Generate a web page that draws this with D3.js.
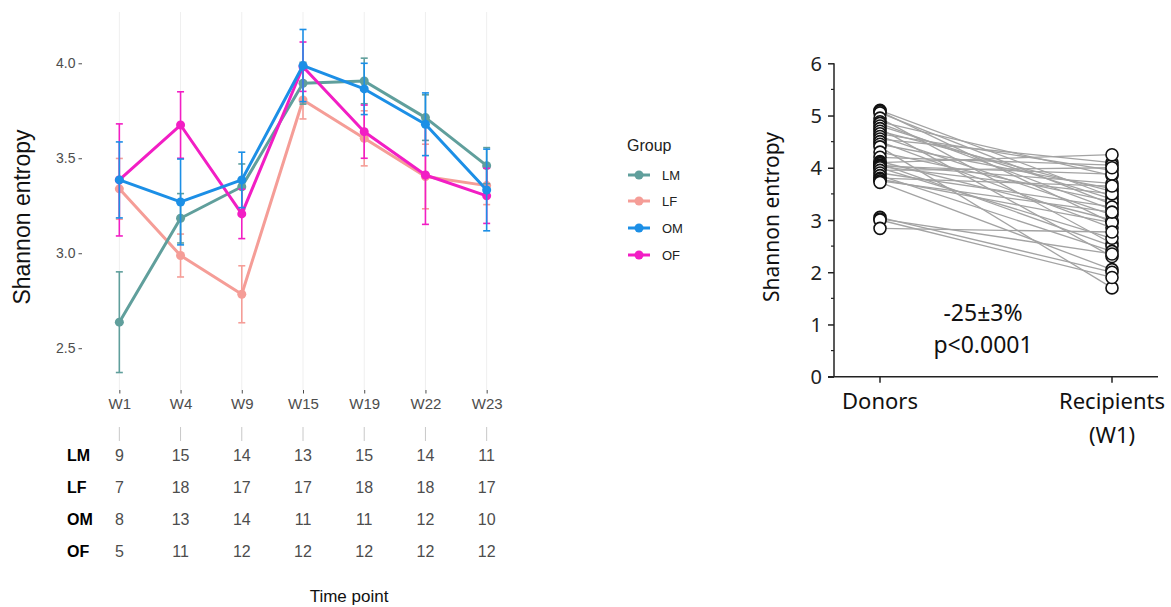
<!DOCTYPE html>
<html><head><meta charset="utf-8">
<script src="https://cdn.jsdelivr.net/npm/d3@7"></script>
<style>body{margin:0;background:#fff}svg{display:block}</style>
</head><body>
<script>
// ---- Left chart data ----
const timePoints = ["W1","W4","W9","W15","W19","W22","W23"];
const groups = ["LM","LF","OM","OF"];
const meanLM = [2.637, 3.184, 3.350, 3.895, 3.907, 3.714, 3.461];
const seLM   = [0.265, 0.130, 0.120, 0.110, 0.120, 0.120, 0.095];
const meanLF = [3.339, 2.988, 2.784, 3.807, 3.605, 3.404, 3.356];
const seLF   = [0.160, 0.113, 0.150, 0.100, 0.145, 0.170, 0.100];
const meanOM = [3.386, 3.270, 3.386, 3.988, 3.865, 3.679, 3.333];
const seOM   = [0.200, 0.226, 0.146, 0.190, 0.135, 0.165, 0.215];
const meanOF = [3.386, 3.675, 3.207, 3.982, 3.640, 3.412, 3.302];
const seOF   = [0.295, 0.175, 0.130, 0.130, 0.140, 0.260, 0.145];
const nLM = [9,15,14,13,15,14,11];
const nLF = [7,18,17,17,18,18,17];
const nOM = [8,13,14,11,11,12,10];
const nOF = [5,11,12,12,12,12,12];
const yTicksLeft = [2.5, 3.0, 3.5, 4.0];

// ---- Right chart data (paired donors -> recipients W1) ----
const donors =     [5.10,5.08,5.05,4.95,4.88,4.85,4.80,4.75,4.70,4.65,4.60,4.55,4.50,4.45,4.40,4.30,4.20,4.12,4.10,4.08,4.05,4.03,4.02,4.00,3.95,3.90,3.85,3.80,3.78,3.75,3.72,3.05,3.02,3.00,2.84];
const recipients = [3.45,2.95,3.30,2.55,3.85,3.20,3.40,2.30,3.55,3.95,3.10,4.10,2.85,3.60,1.70,3.35,4.05,3.00,4.25,2.50,3.70,3.88,3.50,2.65,4.00,3.25,2.40,3.65,2.95,3.15,2.05,2.00,2.35,1.90,2.77];
const pairCats = ["Donors","Recipients"];
const yTicksRight = [0,1,2,3,4,5,6];

const W = 1171, H = 607;
const svg = d3.select("body").append("svg").attr("width", W).attr("height", H);

const colors = {LM:"#609F9C", LF:"#F59D97", OM:"#1C8FE6", OF:"#F21EC4"};
const series = {
  LM:{mean:meanLM, se:seLM, n:nLM},
  LF:{mean:meanLF, se:seLF, n:nLF},
  OM:{mean:meanOM, se:seOM, n:nOM},
  OF:{mean:meanOF, se:seOF, n:nOF}
};

const LF_FONT = "Liberation Sans, Arial, sans-serif";
const x = d3.scalePoint().domain(timePoints).range([82.6, 523.4]).padding(0.6);
const y = d3.scaleLinear().domain([2.28, 4.27]).range([390, 12]);

const left = svg.append("g").attr("font-family", LF_FONT);

// vertical gridlines
left.append("g").selectAll("line").data(timePoints).join("line")
  .attr("x1", d=>x(d)).attr("x2", d=>x(d)).attr("y1", 12).attr("y2", 390)
  .attr("stroke", "#EFEFEF").attr("stroke-width", 1);

// y axis
const yAx = left.append("g").attr("transform","translate(82,0)")
  .call(d3.axisLeft(y).tickValues(yTicksLeft).tickFormat(d3.format(".1f")).tickSize(3.5).tickPadding(3));
yAx.select(".domain").remove();
yAx.selectAll("line").attr("stroke","#4d4d4d");
yAx.selectAll("text").attr("fill","#4d4d4d").attr("font-size",14).attr("font-family",LF_FONT);

// x axis
const xAx = left.append("g").attr("transform","translate(0,390)")
  .call(d3.axisBottom(x).tickSize(3.5).tickPadding(5));
xAx.select(".domain").remove();
xAx.selectAll("line").attr("stroke","#4d4d4d");
xAx.selectAll("text").attr("fill","#4d4d4d").attr("font-size",15).attr("font-family",LF_FONT);

// lines, errorbars, points
const drawOrder = ["LF","LM","OF","OM"];
const lineGen = d3.line().x((d,i)=>x(timePoints[i])).y(d=>y(d));
drawOrder.forEach(g=>{
  const s = series[g], c = colors[g];
  const gg = left.append("g");
  gg.append("path").attr("d", lineGen(s.mean)).attr("fill","none")
    .attr("stroke", c).attr("stroke-width", 3).attr("stroke-linejoin","round");
  s.mean.forEach((m,i)=>{
    const cx = x(timePoints[i]);
    const lo = y(m - s.se[i]), hi = y(m + s.se[i]);
    gg.append("line").attr("x1",cx).attr("x2",cx).attr("y1",lo).attr("y2",hi).attr("stroke",c).attr("stroke-width",1.6);
    [lo,hi].forEach(v=> gg.append("line").attr("x1",cx-3.5).attr("x2",cx+3.5).attr("y1",v).attr("y2",v).attr("stroke",c).attr("stroke-width",1.6));
  });
  gg.selectAll("circle").data(s.mean).join("circle")
    .attr("cx",(d,i)=>x(timePoints[i])).attr("cy",d=>y(d)).attr("r",4.5).attr("fill",c);
});

// y label
left.append("text").attr("transform","translate(30,217) rotate(-90)")
  .attr("text-anchor","middle").attr("font-size",23).attr("fill","#111")
  .text("Shannon entropy");

// legend
const leg = left.append("g");
leg.append("text").attr("x",627).attr("y",151).attr("font-size",16).attr("fill","#222").text("Group");
const legY = [175, 201, 228, 255];
groups.forEach((g,i)=>{
  leg.append("line").attr("x1",628).attr("x2",650).attr("y1",legY[i]).attr("y2",legY[i]).attr("stroke",colors[g]).attr("stroke-width",3);
  leg.append("circle").attr("cx",639).attr("cy",legY[i]).attr("r",4.5).attr("fill",colors[g]);
  leg.append("text").attr("x",662).attr("y",legY[i]+4.5).attr("font-size",13).attr("fill","#222").text(g);
});

// counts table
const tbl = left.append("g");
tbl.selectAll("line").data(timePoints).join("line")
  .attr("x1",d=>x(d)).attr("x2",d=>x(d)).attr("y1",427).attr("y2",441)
  .attr("stroke","#c8c8c8").attr("stroke-width",1);
const rowY = [455, 487, 519, 551];
groups.forEach((g,r)=>{
  tbl.append("text").attr("x",67).attr("y",rowY[r]+6).attr("font-size",16).attr("font-weight","bold").attr("fill","#000").text(g);
  tbl.append("g").selectAll("text").data(series[g].n).join("text")
    .attr("x",(d,i)=>x(timePoints[i])).attr("y",rowY[r]+6).attr("text-anchor","middle")
    .attr("font-size",16).attr("fill","#4d4d4d").text(d=>d);
});
left.append("text").attr("x",349).attr("y",602).attr("text-anchor","middle").attr("font-size",17).attr("fill","#111").text("Time point");

// ---- Right chart ----
const RF = "Noto Sans, Open Sans, sans-serif";
const right = svg.append("g").attr("font-family", RF);
const ry = d3.scaleLinear().domain([0,6]).range([376.7, 63.3]);
const rx = d3.scalePoint().domain(pairCats).range([880, 1112]);

// lines
right.append("g").selectAll("line").data(donors).join("line")
  .attr("x1", rx("Donors")).attr("x2", rx("Recipients"))
  .attr("y1", d=>ry(d)).attr("y2", (d,i)=>ry(recipients[i]))
  .attr("stroke","#a3a3a3").attr("stroke-width",1.3);

// axes
const ryAx = right.append("g").attr("transform","translate(834,0)")
  .call(d3.axisLeft(ry).tickValues(yTicksRight).tickFormat(d3.format("d")).tickSize(6).tickPadding(6));
ryAx.select(".domain").attr("stroke","#222").attr("stroke-width",1.5).attr("d","M0,"+ry(6)+"V"+ry(0));
ryAx.selectAll("line").attr("stroke","#222").attr("stroke-width",1.5);
ryAx.selectAll("text").attr("font-size",20).attr("fill","#222").attr("font-family",RF).attr("dy","0.35em");
right.append("g").selectAll("line").data(d3.range(0.5,6,1)).join("line")
  .attr("x1",831).attr("x2",834).attr("y1",d=>ry(d)).attr("y2",d=>ry(d))
  .attr("stroke","#222").attr("stroke-width",1.2);
right.append("line").attr("x1",828).attr("x2",1158).attr("y1",ry(0)).attr("y2",ry(0))
  .attr("stroke","#222").attr("stroke-width",1.5);
right.append("g").selectAll("line").data(pairCats).join("line")
  .attr("x1",d=>rx(d)).attr("x2",d=>rx(d)).attr("y1",ry(0)).attr("y2",ry(0)+6)
  .attr("stroke","#222").attr("stroke-width",1.5);

// circles
const circ = right.append("g");
circ.selectAll(".d").data(donors).join("circle").attr("class","d")
  .attr("cx",rx("Donors")).attr("cy",d=>ry(d)).attr("r",6)
  .attr("fill","#fff").attr("stroke","#111").attr("stroke-width",1.6);
circ.selectAll(".r").data(recipients).join("circle").attr("class","r")
  .attr("cx",rx("Recipients")).attr("cy",d=>ry(d)).attr("r",6)
  .attr("fill","#fff").attr("stroke","#111").attr("stroke-width",1.6);

// labels
right.append("text").attr("x",rx("Donors")).attr("y",409).attr("text-anchor","middle").attr("font-size",22).attr("fill","#111").text("Donors");
right.append("text").attr("x",rx("Recipients")).attr("y",409).attr("text-anchor","middle").attr("font-size",22).attr("fill","#111").text("Recipients");
right.append("text").attr("x",rx("Recipients")).attr("y",443).attr("text-anchor","middle").attr("font-size",22).attr("fill","#111").text("(W1)");
right.append("text").attr("x",983).attr("y",321).attr("text-anchor","middle").attr("font-size",23).attr("fill","#111").text("-25±3%");
right.append("text").attr("x",983).attr("y",353).attr("text-anchor","middle").attr("font-size",23).attr("fill","#111").text("p<0.0001");
right.append("text").attr("transform","translate(772,217) rotate(-90)").attr("dy","0.35em")
  .attr("text-anchor","middle").attr("font-size",21).attr("fill","#111").text("Shannon entropy");
</script>
</body></html>
